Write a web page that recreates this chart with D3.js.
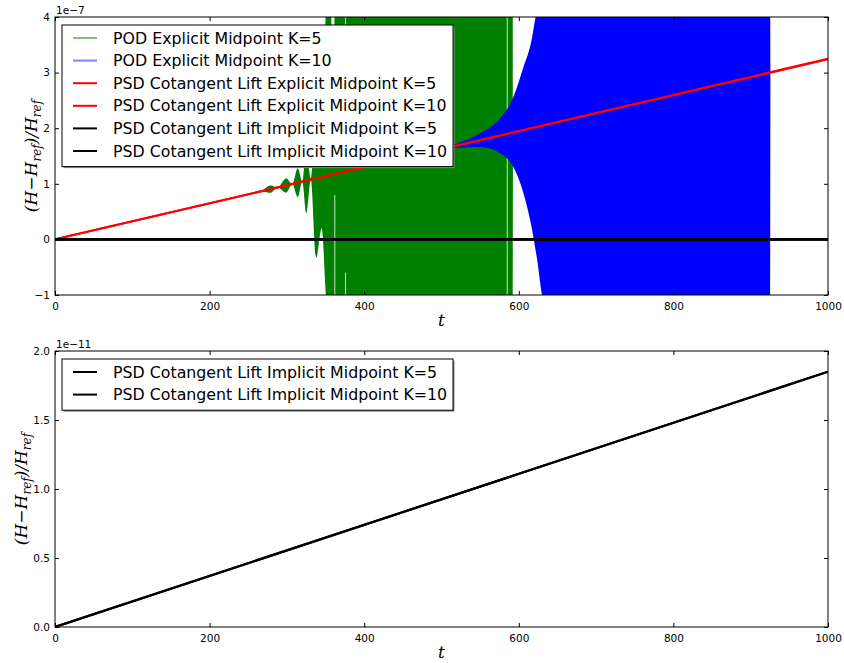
<!DOCTYPE html>
<html>
<head>
<meta charset="utf-8">
<script src="https://cdn.jsdelivr.net/npm/d3@7"></script>
<style>
  body { margin: 0; background: #fff; }
  svg { display: block; }
  text { font-family: "DejaVu Sans", sans-serif; }
  .math { font-family: "DejaVu Serif", serif; font-style: italic; }
</style>
</head>
<body>
<svg id="chart" width="844" height="663"></svg>
<script>
// ---- data (energy error in units of the axis offset) ----
const tTicks = [0, 200, 400, 600, 800, 1000];
const topTicks = [-1, 0, 1, 2, 3, 4];          // x 1e-7
const botTicks = [0.0, 0.5, 1.0, 1.5, 2.0];    // x 1e-11

// PSD cotangent lift explicit midpoint (both K), x 1e-7
const redT = [0, 1000];
const redK5 = [0, 3.24];
const redK10 = [0, 3.25];

// PSD cotangent lift implicit midpoint, x 1e-11 (on the top panel these are ~0)
const blackT = [0, 1000];
const blackK5 = [0, 1.85];
const blackK10 = [0, 1.85];

// POD explicit midpoint K=5: envelope of the fast oscillation, x 1e-7
// (before t=270 it stays hidden under the red line)
const greenT  = [268, 279, 288, 299, 307, 314, 320, 325, 331, 338, 345, 352, 592, 592.5];
const greenUp = [0.868, 0.97, 0.933, 1.10, 0.995, 1.28, 1.04, 1.65, 1.10, 2.60, 1.60, 4.6, 4.6, 1.92];
const greenLo = [0.868, 0.84, 0.933, 0.84, 0.995, 0.76, 1.04, 0.47, 1.07, -0.33, 0.20, -1.2, -1.2, 1.92];
// thin gaps in the green band: [t0, t1, top, bottom]
const greenGaps = [
  [357.5, 361.5, 4.1, 3.0],
  [361.5, 362.5, 0.80, -1.1],
  [375.5, 376.5, 4.1, 3.6],
  [375.5, 376.5, -0.60, -1.1],
  [584.5, 585.5, 4.1, -1.1]
];

// POD explicit midpoint K=10: envelope of the fast oscillation, x 1e-7
const blueT  = [480, 515, 550, 576, 593, 606, 616, 623, 634, 925, 925.5];
const blueUp = [1.555, 1.70, 1.91, 2.18, 2.56, 3.10, 3.55, 4.1, 4.6, 4.6, 3.0];
const blueLo = [1.555, 1.64, 1.66, 1.55, 1.30, 0.83, 0.26, -0.30, -1.2, -1.2, 3.0];

const legendTop = [
  { label: "POD Explicit Midpoint K=5", color: "#008000", opacity: 0.5 },
  { label: "POD Explicit Midpoint K=10", color: "#0000ff", opacity: 0.5 },
  { label: "PSD Cotangent Lift Explicit Midpoint K=5", color: "#ff0000", opacity: 1 },
  { label: "PSD Cotangent Lift Explicit Midpoint K=10", color: "#ff0000", opacity: 1 },
  { label: "PSD Cotangent Lift Implicit Midpoint K=5", color: "#000000", opacity: 1 },
  { label: "PSD Cotangent Lift Implicit Midpoint K=10", color: "#000000", opacity: 1 }
];
const legendBot = legendTop.slice(4);

// ---- layout ----
const svg = d3.select("#chart");
const left = 55, right = 828;
const panels = [
  { top: 17, bottom: 295, domain: [-1, 4], ticks: topTicks, fmt: d3.format("d"), offset: "1e\u22127", legend: legendTop, ylx: 37 },
  { top: 351, bottom: 627, domain: [0, 2], ticks: botTicks, fmt: d3.format(".1f"), offset: "1e\u221211", legend: legendBot, ylx: 27 }
];

const x = d3.scaleLinear().domain([0, 1000]).range([left, right]);

panels.forEach((p, i) => {
  const y = d3.scaleLinear().domain(p.domain).range([p.bottom, p.top]);
  const g = svg.append("g");
  const line = (ts, vs) => d3.line().x((d, k) => x(ts[k])).y(d => y(d))(vs);

  g.append("clipPath").attr("id", "clip" + i)
    .append("rect").attr("x", left).attr("y", p.top)
    .attr("width", right - left).attr("height", p.bottom - p.top);

  const plot = g.append("g").attr("clip-path", `url(#clip${i})`);

  if (i === 0) {
    const band = (ts, up, lo) => d3.area()
      .x(d => x(ts[d]))
      .y0(d => y(lo[d]))
      .y1(d => y(up[d]))
      .curve(d3.curveMonotoneX)(d3.range(ts.length));

    plot.append("path").attr("d", band(greenT, greenUp, greenLo)).attr("fill", "#008000");
    plot.selectAll("rect.gap").data(greenGaps).join("rect")
      .attr("class", "gap")
      .attr("x", d => x(d[0])).attr("width", d => x(d[1]) - x(d[0]))
      .attr("y", d => y(d[2])).attr("height", d => y(d[3]) - y(d[2]))
      .attr("fill", "#fff");
    plot.append("path").attr("d", band(blueT, blueUp, blueLo)).attr("fill", "#0000ff");

    plot.append("path").attr("d", line(redT, redK5)).attr("stroke", "#ff0000").attr("stroke-width", 2).attr("fill", "none");
    plot.append("path").attr("d", line(redT, redK10)).attr("stroke", "#ff0000").attr("stroke-width", 2).attr("fill", "none");
    // implicit midpoint error is 1e-11, i.e. ~0 in units of 1e-7
    plot.append("path").attr("d", line(blackT, blackK5.map(v => v * 1e-4))).attr("stroke", "#000").attr("stroke-width", 2.6).attr("fill", "none");
    plot.append("path").attr("d", line(blackT, blackK10.map(v => v * 1e-4))).attr("stroke", "#000").attr("stroke-width", 2.6).attr("fill", "none");
  } else {
    plot.append("path").attr("d", line(blackT, blackK5)).attr("stroke", "#000").attr("stroke-width", 2.2).attr("fill", "none");
    plot.append("path").attr("d", line(blackT, blackK10)).attr("stroke", "#000").attr("stroke-width", 2.2).attr("fill", "none");
  }

  // frame
  g.append("rect").attr("x", left).attr("y", p.top)
    .attr("width", right - left).attr("height", p.bottom - p.top)
    .attr("fill", "none").attr("stroke", "#000").attr("stroke-width", 1);

  // axes with inward ticks on all sides
  const axB = g.append("g").attr("transform", `translate(0,${p.bottom})`)
    .call(d3.axisBottom(x).tickValues(tTicks).tickFormat(d3.format("d")).tickSize(-4).tickPadding(8).tickSizeOuter(0));
  const axT = g.append("g").attr("transform", `translate(0,${p.top})`)
    .call(d3.axisTop(x).tickValues(tTicks).tickSize(-4).tickFormat("").tickSizeOuter(0));
  const axL = g.append("g").attr("transform", `translate(${left},0)`)
    .call(d3.axisLeft(y).tickValues(p.ticks).tickFormat(d => p.fmt(d).replace("-", "\u2212")).tickSize(-4).tickPadding(5).tickSizeOuter(0));
  const axR = g.append("g").attr("transform", `translate(${right},0)`)
    .call(d3.axisRight(y).tickValues(p.ticks).tickSize(-4).tickFormat("").tickSizeOuter(0));
  [axB, axT, axL, axR].forEach(a => {
    a.select(".domain").remove();
    a.selectAll("text").attr("font-size", 10.5).attr("font-family", "DejaVu Sans").attr("fill", "#000");
  });

  g.append("text").attr("x", left + 1).attr("y", p.top - 3)
    .attr("font-size", 10.5).text(p.offset);

  // axis labels
  g.append("text").attr("class", "math")
    .attr("x", (left + right) / 2).attr("y", p.bottom + 31)
    .attr("text-anchor", "middle").attr("font-size", 17).text("t");

  const yl = g.append("text").attr("class", "math")
    .attr("transform", `translate(${p.ylx},${(p.top + p.bottom) / 2}) rotate(-90)`)
    .attr("text-anchor", "middle").attr("font-size", 17);
  yl.append("tspan").text("(H\u2212H");
  yl.append("tspan").attr("font-size", 12).attr("dy", 4).text("ref");
  yl.append("tspan").attr("dy", -4).text(")/H");
  yl.append("tspan").attr("font-size", 12).attr("dy", 4).text("ref");

  // legend
  const lx = 62, ly = p.top + 8, rowH = 22.6;
  const lh = p.legend.length * rowH + 6;
  g.append("rect").attr("x", lx + 1.5).attr("y", ly + 1.5).attr("width", 391).attr("height", lh)
    .attr("fill", "#888");
  g.append("rect").attr("x", lx).attr("y", ly).attr("width", 391).attr("height", lh)
    .attr("fill", "#fff").attr("stroke", "#000").attr("stroke-width", 1);
  const rows = g.selectAll("g.leg").data(p.legend).join("g")
    .attr("class", "leg")
    .attr("transform", (d, k) => `translate(${lx},${ly + 13 + k * rowH})`);
  rows.append("line").attr("x1", 11).attr("x2", 35).attr("y1", 0).attr("y2", 0)
    .attr("stroke", d => d.color).attr("stroke-opacity", d => d.opacity).attr("stroke-width", 2);
  rows.append("text").attr("x", 51).attr("y", 5.5).attr("font-size", 15.8).text(d => d.label);
});
</script>
</body>
</html>
